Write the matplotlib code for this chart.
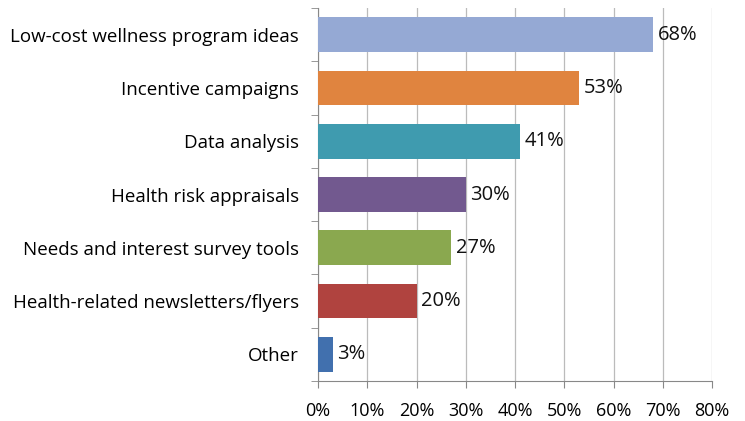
import matplotlib.pyplot as plt
import numpy as np

categories = [
    'Low-cost wellness program ideas',
    'Incentive campaigns',
    'Data analysis',
    'Health risk appraisals',
    'Needs and interest survey tools',
    'Health-related newsletters/flyers',
    'Other',
]
values = [68, 53, 41, 30, 27, 20, 3]
colors = ['#95A9D4', '#E0843F', '#3F9BAF', '#72598F', '#8AA84F', '#B0433F', '#4170AE']

plt.rcParams['font.family'] = ['Open Sans', 'DejaVu Sans']

fig = plt.figure(figsize=(7.45, 4.21), dpi=100)
ax = fig.add_axes([0.427, 0.095, 0.529, 0.886])

y = np.arange(len(categories))[::-1]
ax.barh(y, values, height=0.65, color=colors, zorder=3)

for yi, v in zip(y, values):
    ax.text(v + 0.9, yi, '%d%%' % v, va='center', ha='left', fontsize=14.5, color='#111111', zorder=4)

ax.set_xlim(0, 80)
ax.set_ylim(-0.5, len(categories) - 0.5)

ax.set_xticks(np.arange(0, 81, 10))
ax.set_xticklabels(['%d%%' % x for x in np.arange(0, 81, 10)], fontsize=13)
ax.set_yticks(y)
ax.set_yticklabels(categories, fontsize=13.5)
ax.set_yticks(np.arange(-0.5, len(categories), 1), minor=True)

ax.tick_params(axis='y', which='major', length=0, pad=14)
ax.tick_params(axis='y', which='minor', length=5, color='#888888', direction='out')
ax.tick_params(axis='x', length=5, color='#888888', pad=10)

ax.grid(axis='x', color='#BBBBBB', linewidth=0.9, zorder=0)

for name, spine in ax.spines.items():
    if name in ('top', 'right'):
        spine.set_visible(False)
    else:
        spine.set_color('#888888')

fig.savefig('out.png', dpi=100)
